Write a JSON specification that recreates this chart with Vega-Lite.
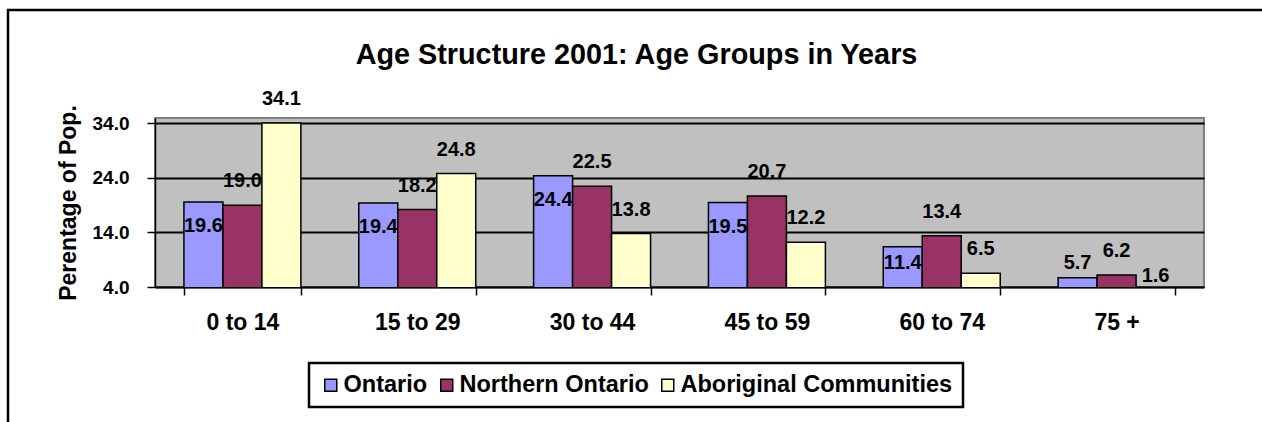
{
  "$schema": "https://vega.github.io/schema/vega-lite/v6.json",
  "autosize": "none",
  "width": 1049,
  "height": 169,
  "padding": {"left": 155, "top": 118, "right": 58, "bottom": 135},
  "background": "white",
  "title": {
    "text": "Age Structure 2001: Age Groups in Years",
    "font": "Liberation Sans",
    "fontSize": 28.8,
    "fontWeight": "bold",
    "color": "black",
    "anchor": "middle",
    "frame": "group",
    "dx": -43,
    "offset": -61
  },
  "data": {
    "values": [
      {"age": "0 to 14", "region": "Ontario", "pct": 19.6},
      {"age": "0 to 14", "region": "Northern Ontario", "pct": 19.0},
      {"age": "0 to 14", "region": "Aboriginal Communities", "pct": 34.1},
      {"age": "15 to 29", "region": "Ontario", "pct": 19.4},
      {"age": "15 to 29", "region": "Northern Ontario", "pct": 18.2},
      {"age": "15 to 29", "region": "Aboriginal Communities", "pct": 24.8},
      {"age": "30 to 44", "region": "Ontario", "pct": 24.4},
      {"age": "30 to 44", "region": "Northern Ontario", "pct": 22.5},
      {"age": "30 to 44", "region": "Aboriginal Communities", "pct": 13.8},
      {"age": "45 to 59", "region": "Ontario", "pct": 19.5},
      {"age": "45 to 59", "region": "Northern Ontario", "pct": 20.7},
      {"age": "45 to 59", "region": "Aboriginal Communities", "pct": 12.2},
      {"age": "60 to 74", "region": "Ontario", "pct": 11.4},
      {"age": "60 to 74", "region": "Northern Ontario", "pct": 13.4},
      {"age": "60 to 74", "region": "Aboriginal Communities", "pct": 6.5},
      {"age": "75 +", "region": "Ontario", "pct": 5.7},
      {"age": "75 +", "region": "Northern Ontario", "pct": 6.2},
      {"age": "75 +", "region": "Aboriginal Communities", "pct": 1.6}
    ]
  },
  "encoding": {
    "x": {
      "field": "age",
      "type": "nominal",
      "sort": ["0 to 14", "15 to 29", "30 to 44", "45 to 59", "60 to 74", "75 +"],
      "scale": {"paddingInner": 0.331, "paddingOuter": 0.1655},
      "axis": {
        "title": null,
        "labelAngle": 0,
        "labelFont": "Liberation Sans",
        "labelFontSize": 23,
        "labelFontWeight": "bold",
        "labelColor": "black",
        "labelPadding": 16,
        "tickBand": "extent",
        "tickSize": 8,
        "tickColor": "black",
        "tickWidth": 1.5,
        "domainColor": "black",
        "domainWidth": 1.5
      }
    },
    "xOffset": {
      "field": "region",
      "type": "nominal",
      "sort": ["Ontario", "Northern Ontario", "Aboriginal Communities"],
      "scale": {"paddingInner": 0, "paddingOuter": 0}
    },
    "y": {
      "field": "pct",
      "type": "quantitative",
      "scale": {"domain": [4, 35], "nice": false, "zero": false},
      "axis": {
        "title": "Perentage of Pop.",
        "titleFont": "Liberation Sans",
        "titleFontSize": 23,
        "titleFontWeight": "bold",
        "titleColor": "black",
        "titlePadding": 12,
        "values": [4, 14, 24, 34],
        "format": ".1f",
        "labelFont": "Liberation Sans",
        "labelFontSize": 19,
        "labelFontWeight": "bold",
        "labelColor": "black",
        "labelPadding": 18,
        "tickSize": 8,
        "tickColor": "black",
        "tickWidth": 1.5,
        "domainColor": "black",
        "domainWidth": 1.5,
        "grid": true,
        "gridColor": "black",
        "gridWidth": 1.8,
        "gridOpacity": 1
      }
    }
  },
  "layer": [
    {
      "mark": {"type": "bar", "clip": true, "stroke": "black", "strokeWidth": 1.5},
      "encoding": {
        "color": {
          "field": "region",
          "type": "nominal",
          "scale": {
            "domain": ["Ontario", "Northern Ontario", "Aboriginal Communities"],
            "range": ["#9999FF", "#993366", "#FFFFCC"]
          },
          "legend": {
            "title": null,
            "orient": "none",
            "direction": "horizontal",
            "legendX": 154,
            "legendY": 245,
            "strokeColor": "black",
            "padding": 10,
            "symbolType": "square",
            "symbolSize": 144,
            "symbolStrokeColor": "black",
            "symbolStrokeWidth": 1.5,
            "symbolOpacity": 1,
            "labelFont": "Liberation Sans",
            "labelFontSize": 23.5,
            "labelFontWeight": "bold",
            "labelColor": "black",
            "labelOffset": 1,
            "columnPadding": 7,
            "labelLimit": 400
          }
        }
      }
    },
    {
      "transform": [{"filter": "datum.region === 'Ontario' && datum.pct > 12"}],
      "mark": {"type": "text", "font": "Liberation Sans", "fontSize": 20, "fontWeight": "bold", "color": "black", "dy": 24, "baseline": "middle"},
      "encoding": {"text": {"field": "pct", "type": "quantitative", "format": ".1f"}}
    },
    {
      "transform": [{"filter": "datum.region === 'Ontario' && datum.pct <= 12"}],
      "mark": {"type": "text", "font": "Liberation Sans", "fontSize": 20, "fontWeight": "bold", "color": "black", "dy": -24, "baseline": "middle"},
      "encoding": {
        "y": {"datum": 4, "type": "quantitative"},
        "text": {"field": "pct", "type": "quantitative", "format": ".1f"}
      }
    },
    {
      "transform": [{"filter": "datum.region !== 'Ontario'"}],
      "mark": {"type": "text", "font": "Liberation Sans", "fontSize": 20, "fontWeight": "bold", "color": "black", "dy": -24, "baseline": "middle"},
      "encoding": {
        "text": {"field": "pct", "type": "quantitative", "format": ".1f"}
      }
    },
    {
      "mark": {"type": "text", "fill": "transparent", "fontSize": 1},
      "encoding": {
        "text": {"value": ""},
        "opacity": {
          "datum": "frame",
          "type": "nominal",
          "scale": {"range": [0]},
          "legend": {
            "title": null,
            "orient": "none",
            "legendX": -147,
            "legendY": -108,
            "strokeColor": "black",
            "padding": 150,
            "symbolType": "square",
            "symbolSize": 16000000,
            "symbolFillColor": "transparent",
            "symbolStrokeColor": "transparent",
            "symbolStrokeWidth": 0,
            "labelExpr": "''",
            "labelFontSize": 1
          }
        }
      }
    }
  ],
  "config": {
    "view": {"fill": "#C0C0C0", "stroke": "#808080", "strokeWidth": 2},
    "legend": {"strokeWidth": 2.5}
  }
}
